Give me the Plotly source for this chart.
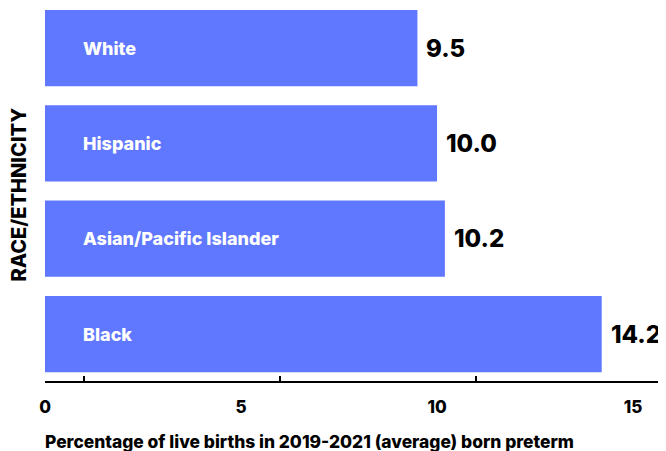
import plotly.graph_objects as go

categories = ["White", "Hispanic", "Asian/Pacific Islander", "Black"]
values = [9.5, 10.0, 10.2, 14.2]
value_labels = ["9.5", "10.0", "10.2", "14.2"]
tick_vals = [0, 5, 10, 15]
tick_text = ["0", "5", "10", "15"]
minor_tick_vals = [1, 6, 11, 16]
x_title = "Percentage of live births in 2019-2021 (average) born preterm"
y_title = "RACE/ETHNICITY"

BAR = "#6078FF"
FONT = "Inter"
W = 800
XMAX = 15.84

fig = go.Figure()
fig.add_trace(go.Bar(
    x=values, y=categories, orientation="h",
    marker=dict(color=BAR, line=dict(width=0)),
    hoverinfo="skip", showlegend=False,
))
fig.add_trace(go.Scatter(x=[0], y=[categories[0]], xaxis="x2", mode="markers",
                         marker=dict(opacity=0), showlegend=False, hoverinfo="skip"))

annotations = []
for c, v, t in zip(categories, values, value_labels):
    annotations.append(dict(x=0, y=c, xref="x", yref="y", text=c, showarrow=False,
                            xanchor="left", xshift=36,
                            font=dict(family=FONT, size=18, color="white", weight=W)))
    annotations.append(dict(x=v, y=c, xref="x", yref="y", text=t, showarrow=False,
                            xanchor="left", xshift=7,
                            font=dict(family=FONT, size=24, color="black", weight=W)))
annotations.append(dict(x=0, y=0.5, xref="paper", yref="paper", text=y_title,
                        textangle=-90, showarrow=False, xanchor="center", xshift=-27,
                        font=dict(family=FONT, size=20, color="black", weight=W)))
annotations.append(dict(x=0, y=0, xref="paper", yref="paper", text=x_title,
                        showarrow=False, xanchor="left", yanchor="middle",
                        xshift=-2, yshift=-60,
                        font=dict(family=FONT, size=17.4, color="black", weight=W)))

fig.update_layout(
    width=658, height=443,
    margin=dict(l=37, r=0, t=0, b=70, autoexpand=False),
    paper_bgcolor="white", plot_bgcolor="white",
    bargap=0.2,
    annotations=annotations,
    xaxis=dict(range=[0, XMAX], tickvals=tick_vals, ticktext=tick_text,
               ticks="", showgrid=False, zeroline=False, automargin=False,
               showline=True, linecolor="black", linewidth=2,
               ticklabelstandoff=10,
               tickfont=dict(family=FONT, size=17, color="black", weight=W),
               fixedrange=True),
    xaxis2=dict(range=[0, XMAX], overlaying="x", side="bottom", anchor="y",
                tickvals=minor_tick_vals, ticks="inside", ticklen=5, tickwidth=2,
                tickcolor="black", showticklabels=False, showgrid=False,
                zeroline=False, showline=False, automargin=False),
    yaxis=dict(categoryorder="array", categoryarray=categories[::-1],
               range=[-0.493, 3.42],
               showticklabels=False, ticks="", showgrid=False, zeroline=False,
               showline=False, automargin=False),
)

fig.write_html("out.html")
